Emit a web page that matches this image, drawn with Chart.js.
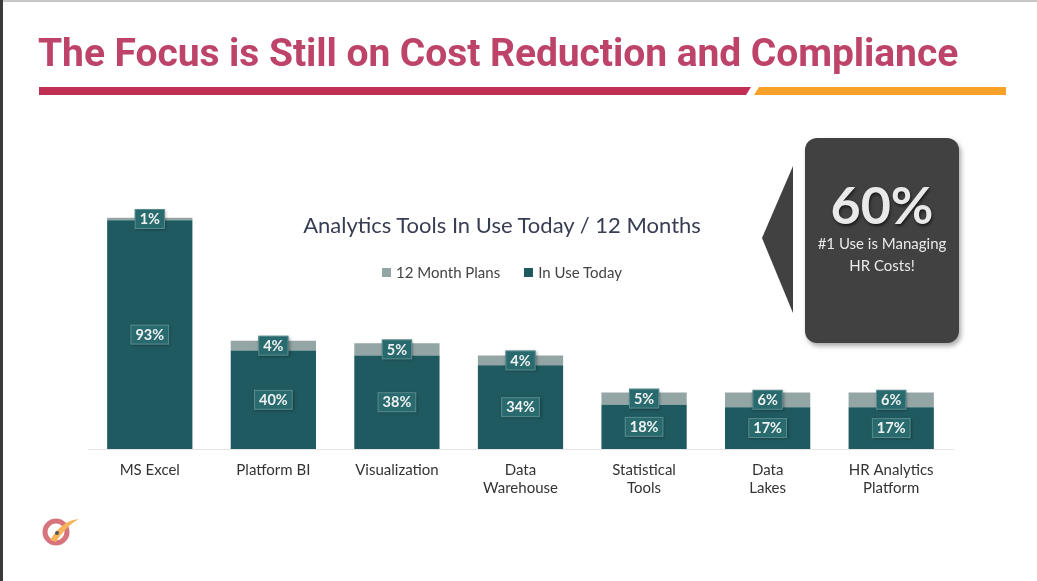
<!DOCTYPE html>
<html>
<head>
<meta charset="utf-8">
<script src="https://cdn.jsdelivr.net/npm/chart.js@4.4.1/dist/chart.umd.min.js"></script>
<style>
  html,body{margin:0;padding:0;background:#fff;}
  #wrap{position:relative;width:1037px;height:581px;overflow:hidden;background:#fff;font-family:Lato,"Open Sans",sans-serif;}
  #c{position:absolute;left:0;top:0;}
  .abs{position:absolute;}
  #slideTitle{left:38px;top:30px;font-family:Roboto,sans-serif;font-weight:700;font-size:39px;color:#bd4468;white-space:nowrap;letter-spacing:-0.06px;}
  #chartTitle{left:0;width:1004px;top:211px;text-align:center;font-size:22px;color:#373d52;white-space:nowrap;}
  #legend{left:0;width:1004px;top:263px;text-align:center;font-size:15px;color:#444;white-space:nowrap;}
  #legend span.sw{display:inline-block;width:9px;height:9px;margin-right:5px;vertical-align:1px;}
  #legend span.item{margin:0 12px;}
  #callout{left:805px;top:138px;width:154px;height:205px;background:#414141;border-radius:12px;box-shadow:2px 3px 5px rgba(0,0,0,0.35);color:#e9e9e9;text-align:center;}
  #big{font-size:52px;font-weight:700;margin-top:38px;line-height:56px;text-shadow:1px 2px 3px rgba(0,0,0,0.6);}
  #sub{font-size:15px;line-height:22px;margin-top:0px;}
</style>
</head>
<body>
<div id="wrap">
  <canvas id="c" width="1037" height="581"></canvas>
  <svg class="abs" style="left:0;top:0" width="1037" height="581">
    <rect x="0" y="0" width="1037" height="2" fill="#c8c8c8"/>
    <rect x="0" y="0" width="3" height="581" fill="#3a3a3a"/>
    <polygon points="39,87 751,87 746,95 39,95" fill="#c22f55"/>
    <polygon points="759,87 1006,87 1006,95 754,95" fill="#f7a128"/>
    <polygon points="793,166 762,238 793,313" fill="#414141"/>
    <circle cx="56" cy="532" r="11" fill="none" stroke="#d7737c" stroke-width="5"/>
    <path d="M50,540 C58,528 66,520 79,519 C70,524 62,532 56,542 Z" fill="#f6b35a"/>
    <circle cx="57" cy="533" r="2" fill="#555"/>
  </svg>
  <div id="slideTitle" class="abs">The Focus is Still on Cost Reduction and Compliance</div>
  <div id="chartTitle" class="abs">Analytics Tools In Use Today / 12 Months</div>
  <div id="legend" class="abs"><span class="item"><span class="sw" style="background:#93a5a4"></span>12 Month Plans</span><span class="item"><span class="sw" style="background:#1f5a60"></span>In Use Today</span></div>
  <div id="callout" class="abs"><div id="big">60%</div><div id="sub">#1 Use is Managing<br>HR Costs!</div></div>
</div>
<script>
const categories = [["MS Excel"],["Platform BI"],["Visualization"],["Data","Warehouse"],["Statistical","Tools"],["Data","Lakes"],["HR Analytics","Platform"]];
const inUseToday = [93, 40, 38, 34, 18, 17, 17];
const monthPlans = [1, 4, 5, 4, 5, 6, 6];
const seriesNames = ["In Use Today", "12 Month Plans"];

const labelBoxes = {
  id: 'labelBoxes',
  afterDatasetsDraw(chart) {
    const ctx = chart.ctx;
    ctx.save();
    ctx.font = 'bold 14.5px Lato, "Open Sans", sans-serif';
    ctx.textAlign = 'center';
    ctx.textBaseline = 'middle';
    chart.data.datasets.forEach((ds, di) => {
      const meta = chart.getDatasetMeta(di);
      meta.data.forEach((el, i) => {
        const txt = ds.data[i] + '%';
        const cx = el.x;
        const cy = (el.y + el.base) / 2;
        const w = ctx.measureText(txt).width + 10;
        const h = 20;
        ctx.save();
        ctx.shadowColor = 'rgba(0,0,0,0.35)';
        ctx.shadowBlur = 3;
        ctx.shadowOffsetX = 1;
        ctx.shadowOffsetY = 1;
        ctx.fillStyle = '#296a6e';
        ctx.fillRect(cx - w / 2, cy - h / 2, w, h);
        ctx.restore();
        ctx.strokeStyle = 'rgba(200,220,220,0.3)';
        ctx.lineWidth = 1;
        ctx.strokeRect(cx - w / 2 + 0.5, cy - h / 2 + 0.5, w - 1, h - 1);
        ctx.fillStyle = '#eef2f2';
        ctx.fillText(txt, cx, cy + 0.5);
      });
    });
    ctx.restore();
  }
};

new Chart(document.getElementById('c'), {
  type: 'bar',
  data: {
    labels: categories,
    datasets: [
      { label: seriesNames[0], data: inUseToday, backgroundColor: '#1f5a60', barPercentage: 0.69, categoryPercentage: 1.0 },
      { label: seriesNames[1], data: monthPlans, backgroundColor: '#93a5a4', barPercentage: 0.69, categoryPercentage: 1.0 }
    ]
  },
  options: {
    responsive: false,
    animation: false,
    layout: { padding: { left: 88, right: 84, top: 203, bottom: 72 } },
    plugins: { legend: { display: false }, title: { display: false }, tooltip: { enabled: false } },
    scales: {
      x: {
        stacked: true,
        grid: { display: false, drawTicks: false },
        border: { display: true, color: '#e4e4e4', width: 1 },
        ticks: { color: '#333', font: { family: 'Lato, "Open Sans", sans-serif', size: 15 }, padding: 12, maxRotation: 0, autoSkip: false },
        afterFit(scale) { scale.height = 60; }
      },
      y: { stacked: true, display: false, min: 0, max: 100 }
    }
  },
  plugins: [labelBoxes]
});
</script>
</body>
</html>
